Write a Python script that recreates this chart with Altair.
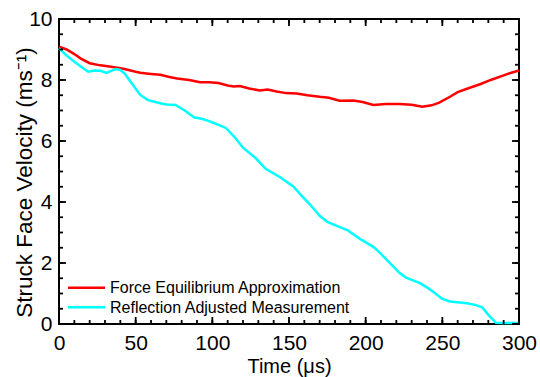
import altair as alt
import pandas as pd

# ---- data ----
t_red = [0, 5, 10, 14, 20, 27, 33, 42, 50, 53, 60, 66, 72, 77, 85, 92, 98, 104, 110, 114,
         118, 124, 131, 136, 142, 148, 155, 162, 170, 176, 183, 192, 198, 205, 213, 222,
         230, 237, 243, 248, 255, 260, 267, 275, 282, 290, 295, 300]
v_red = [9.09, 9.0, 8.85, 8.71, 8.55, 8.48, 8.44, 8.37, 8.27, 8.24, 8.2, 8.17, 8.1, 8.05,
         8.0, 7.93, 7.93, 7.9, 7.82, 7.79, 7.8, 7.72, 7.66, 7.69, 7.62, 7.57, 7.56, 7.5,
         7.45, 7.42, 7.32, 7.33, 7.28, 7.18, 7.21, 7.21, 7.19, 7.12, 7.17, 7.26, 7.45, 7.6,
         7.73, 7.87, 8.01, 8.15, 8.24, 8.31]

t_cyan = [0, 5, 10, 14, 19, 23, 27, 31, 34, 37, 40, 43, 48, 53, 58, 66, 70, 76, 82, 88,
          93, 97, 103, 109, 115, 120, 128, 135, 144, 153, 158, 164, 170, 175, 182, 188,
          196, 205, 210, 216, 222, 226, 235, 240, 244, 250, 255, 266, 272, 276, 280, 285,
          288, 300]
v_cyan = [9.04, 8.8, 8.6, 8.45, 8.27, 8.31, 8.3, 8.23, 8.3, 8.36, 8.33, 8.2, 7.85, 7.51,
          7.34, 7.24, 7.2, 7.18, 7.0, 6.78, 6.73, 6.67, 6.55, 6.42, 6.1, 5.78, 5.45, 5.08,
          4.82, 4.5, 4.22, 3.9, 3.55, 3.35, 3.2, 3.08, 2.8, 2.53, 2.3, 1.99, 1.68, 1.53,
          1.35, 1.2, 1.06, 0.82, 0.74, 0.68, 0.62, 0.55, 0.3, 0.04, 0.03, 0.03]

series_names = ["Force Equilibrium Approximation", "Reflection Adjusted Measurement"]
series_colors = ["#ff0000", "#00ffff"]

x_major = [0, 50, 100, 150, 200, 250, 300]
x_minor = [0, 10, 20, 30, 40, 50, 60, 70, 80, 90, 100, 110, 120, 130, 140, 150, 160, 170,
           180, 190, 200, 210, 220, 230, 240, 250, 260, 270, 280, 290, 300]
y_major = [0, 2, 4, 6, 8, 10]
y_minor = [0, 0.5, 1, 1.5, 2, 2.5, 3, 3.5, 4, 4.5, 5, 5.5, 6, 6.5, 7, 7.5, 8, 8.5, 9, 9.5, 10]

W, H = 460, 305
FONT = "Liberation Sans"
X_TITLE = "Time (μs)"
Y_TITLE = "Struck Face Velocity (ms⁻¹)"

df = pd.concat([
    pd.DataFrame({"t": t_red, "v": v_red, "series": series_names[0], "o": range(len(t_red))}),
    pd.DataFrame({"t": t_cyan, "v": v_cyan, "series": series_names[1], "o": range(len(t_cyan))}),
])

xs = alt.Scale(domain=[0, 300], nice=False, zero=False)
ys = alt.Scale(domain=[0, 10], nice=False, zero=False)

xaxis = alt.Axis(values=x_major, tickSize=0, domain=False, grid=False,
                 labelFontSize=21, labelFont=FONT, labelColor="black",
                 labelPadding=8, titleFontSize=20, titleFont=FONT,
                 titleFontWeight="normal", titleColor="black", titlePadding=3,
                 labelFlush=False)
yaxis = alt.Axis(values=y_major, tickSize=0, domain=False, grid=False,
                 labelFontSize=21, labelFont=FONT, labelColor="black",
                 labelPadding=7, titleFontSize=22.5, titleFont=FONT,
                 titleFontWeight="normal", titleColor="black", titlePadding=-8,
                 titleY=163, labelFlush=False)

lines = alt.Chart(df).mark_line(strokeWidth=2.5, clip=False).encode(
    x=alt.X("t:Q", scale=xs, title=X_TITLE, axis=xaxis),
    y=alt.Y("v:Q", scale=ys, title=Y_TITLE, axis=yaxis),
    color=alt.Color("series:N",
                    scale=alt.Scale(domain=series_names, range=series_colors),
                    legend=None),
    order="o:Q",
)

def xticks(vals, length):
    d = pd.DataFrame({"t": vals})
    base = alt.Chart(d).mark_rule(color="black", strokeWidth=1.8)
    bottom = base.encode(x=alt.X("t:Q", scale=xs, title=X_TITLE, axis=xaxis),
                         y=alt.value(H), y2=alt.value(H - length))
    top = base.encode(x=alt.X("t:Q", scale=xs, title=X_TITLE, axis=xaxis),
                      y=alt.value(0), y2=alt.value(length))
    return [bottom, top]

def yticks(vals, length):
    d = pd.DataFrame({"v": vals})
    base = alt.Chart(d).mark_rule(color="black", strokeWidth=1.8)
    left = base.encode(y=alt.Y("v:Q", scale=ys, title=Y_TITLE, axis=yaxis),
                       x=alt.value(0), x2=alt.value(length))
    right = base.encode(y=alt.Y("v:Q", scale=ys, title=Y_TITLE, axis=yaxis),
                        x=alt.value(W), x2=alt.value(W - length))
    return [left, right]

# manual legend (inside plot, lower left)
legend_layers = []
for i, (name, col) in enumerate(zip(series_names, series_colors)):
    ld = pd.DataFrame({"name": [name]})
    yy = 268.7 + 19.6 * i
    legend_layers.append(
        alt.Chart(ld).mark_rule(strokeWidth=2.5, color=col).encode(
            x=alt.value(9), x2=alt.value(46), y=alt.value(yy)))
    legend_layers.append(
        alt.Chart(ld).mark_text(align="left", baseline="middle", fontSize=16,
                                font=FONT, color="black").encode(
            x=alt.value(51), y=alt.value(yy + 0.5), text="name:N"))

layers = ([lines] + xticks(x_minor, 4) + xticks(x_major, 7) + yticks(y_minor, 4)
          + yticks(y_major, 7) + legend_layers)

chart = alt.layer(*layers).properties(
    width=W, height=H,
    autosize=alt.AutoSizeParams(type="none"),
    padding={"left": 59, "top": 19, "right": 21, "bottom": 53},
    background="white",
).configure_view(stroke="black", strokeWidth=2)

chart.save("out.html", embed_options={"renderer": "svg", "actions": False})
